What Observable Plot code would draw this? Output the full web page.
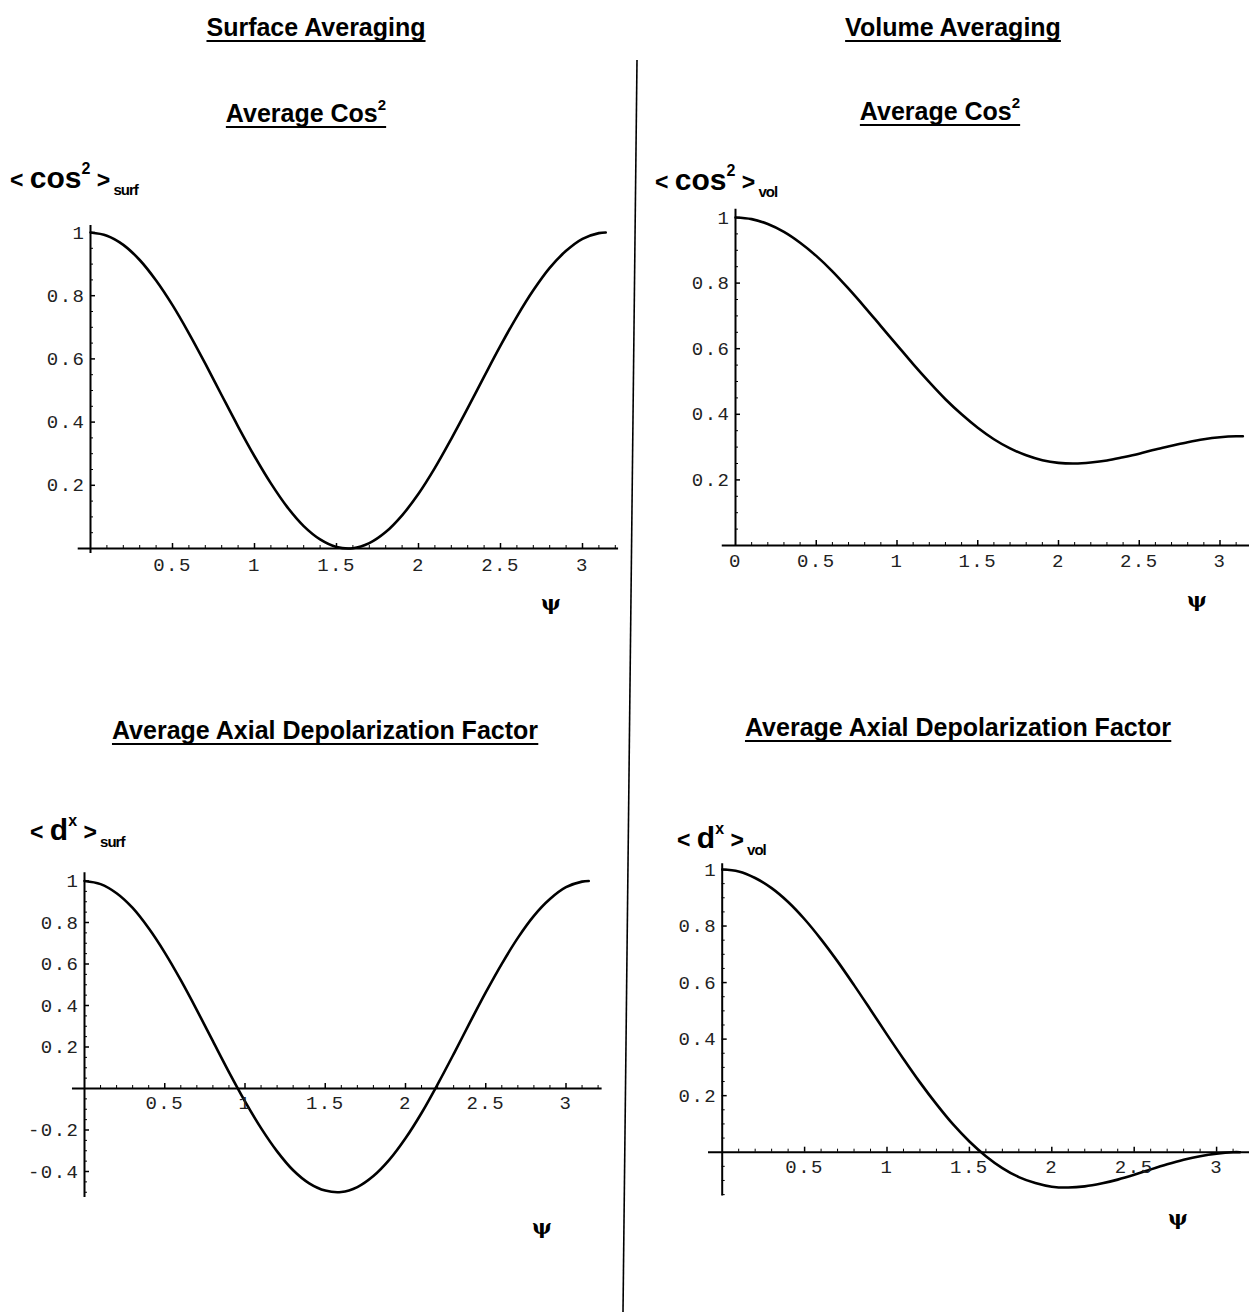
<!DOCTYPE html>
<html><head><meta charset="utf-8">
<script src="https://cdn.jsdelivr.net/npm/d3@7"></script>
<script src="https://cdn.jsdelivr.net/npm/@observablehq/plot@0.6"></script>
<style>
body{margin:0;background:#fff;}
#root{position:relative;width:1249px;height:1312px;overflow:hidden;background:#fff;}
.panel{position:absolute;}
#overlay{position:absolute;left:0;top:0;}
</style></head><body><div id="root"></div>
<script>
// ψ sample positions (radians)
const psi = [0,0.1,0.2,0.3,0.4,0.5,0.6,0.7,0.8,0.9,1.0,1.1,1.2,1.3,1.4,1.5,1.6,1.7,1.8,1.9,2.0,2.1,2.2,2.3,2.4,2.5,2.6,2.7,2.8,2.9,3.0,3.1,3.1416];
// <cos^2>_surf
const cosSurf = [1.000,0.990,0.961,0.913,0.848,0.770,0.681,0.585,0.485,0.386,0.292,0.206,0.131,0.071,0.029,0.005,0.001,0.017,0.052,0.105,0.173,0.255,0.347,0.444,0.544,0.642,0.734,0.817,0.888,0.942,0.980,0.998,1.000];
// <cos^2>_vol
const cosVol = [1.000,0.995,0.980,0.956,0.923,0.883,0.836,0.783,0.727,0.669,0.611,0.553,0.498,0.446,0.400,0.359,0.324,0.296,0.275,0.260,0.252,0.250,0.253,0.259,0.269,0.280,0.293,0.304,0.315,0.324,0.330,0.333,0.333];
// <d^x>_surf
const dSurf = [1.000,0.985,0.941,0.870,0.772,0.655,0.522,0.378,0.228,0.079,-0.062,-0.191,-0.303,-0.394,-0.457,-0.492,-0.499,-0.475,-0.422,-0.343,-0.240,-0.118,0.020,0.166,0.316,0.463,0.601,0.726,0.832,0.913,0.970,0.997,1.000];
// <d^x>_vol
const dVol = [1.000,0.993,0.970,0.934,0.885,0.824,0.753,0.675,0.591,0.504,0.416,0.330,0.247,0.170,0.099,0.038,-0.014,-0.056,-0.088,-0.109,-0.122,-0.125,-0.121,-0.111,-0.097,-0.080,-0.061,-0.043,-0.027,-0.014,-0.005,0.000,0.000];

// tick labels
const xTicksA = [0.5,1,1.5,2,2.5,3];
const xTicksB = [0,0.5,1,1.5,2,2.5,3];
const yTicksPos = [0.2,0.4,0.6,0.8,1];
const yTicksSigned = [-0.4,-0.2,0.2,0.4,0.6,0.8,1];

const fmt = d => String(d);

function panel(o) {
  const data = psi.map((p, i) => ({psi: p, v: o.values[i]}));
  const xMinor = d3.range(1, 33).map(i => i / 10).filter(v => v <= o.xExt[1] && Math.abs(v * 2 - Math.round(v * 2)) > 1e-6);
  const yMinor = d3.range(-20, 21).map(i => i / 20).filter(v => v >= o.yExt[0] && v <= o.yExt[1] && v !== 0 && Math.abs(v * 5 - Math.round(v * 5)) > 1e-6);
  const yMajor = o.yLabels;
  const xMajor = o.xLabels.filter(v => v !== 0);
  const mono = "Liberation Mono, Courier New, monospace";
  const chart = Plot.plot({
    width: o.w, height: o.h, margin: 0,
    style: "overflow:visible;background:transparent;letter-spacing:1.5px;",
    x: {domain: [0, 1], range: [o.x0, o.x0 + o.kx], axis: null},
    y: {domain: [0, 1], range: [o.y0, o.y0 - o.ky], axis: null},
    marks: [
      Plot.ruleY([0], {x1: o.xExt[0], x2: o.xExt[1], stroke: "#000", strokeWidth: 2}),
      Plot.ruleX([0], {y1: o.yExt[0], y2: o.yExt[1], stroke: "#000", strokeWidth: 2}),
      Plot.ruleX(xMajor, {x: d => d, y1: 0, y2: 5 / o.ky, stroke: "#000", strokeWidth: 1.5}),
      Plot.ruleX(xMinor, {x: d => d, y1: 0, y2: 3 / o.ky, stroke: "#000", strokeWidth: 1}),
      Plot.ruleY(yMajor, {y: d => d, x1: 0, x2: 5 / o.kx, stroke: "#000", strokeWidth: 1.5}),
      Plot.ruleY(yMinor, {y: d => d, x1: 0, x2: 3 / o.kx, stroke: "#000", strokeWidth: 1}),
      Plot.line(data, {x: "psi", y: "v", curve: "catmull-rom", stroke: "#000", strokeWidth: 2.6}),
      Plot.text(o.xLabels, {x: d => d, y: 0, text: fmt, dy: o.dy, lineAnchor: "top", textAnchor: "middle", fontFamily: mono, fontSize: 19, fill: "#222"}),
      Plot.text(o.yLabels, {x: 0, y: d => d, text: fmt, dx: -5, textAnchor: "end", fontFamily: mono, fontSize: 19, fill: "#222"})
    ]
  });
  chart.classList.add("panel");
  chart.style.left = o.left + "px";
  chart.style.top = o.top + "px";
  chart.style.position = "absolute";
  return chart;
}

const root = document.getElementById("root");
root.append(panel({values: cosSurf, left: 0, top: 160, w: 636, h: 480, x0: 90, kx: 164, y0: 388, ky: 316,
  xExt: [-0.075, 3.22], yExt: [-0.016, 1.022], xLabels: xTicksA, yLabels: yTicksPos, dy: 9}));
root.append(panel({values: cosVol, left: 640, top: 160, w: 609, h: 480, x0: 95, kx: 161.5, y0: 385, ky: 328,
  xExt: [-0.082, 3.25], yExt: [0, 1.025], xLabels: xTicksB, yLabels: yTicksPos, dy: 8}));
root.append(panel({values: dSurf, left: 0, top: 760, w: 636, h: 520, x0: 84, kx: 160.5, y0: 328, ky: 207.5,
  xExt: [-0.075, 3.225], yExt: [-0.525, 1.04], xLabels: xTicksA, yLabels: yTicksSigned, dy: 7}));
root.append(panel({values: dVol, left: 640, top: 760, w: 609, h: 520, x0: 81.7, kx: 164.8, y0: 391.7, ky: 282.7,
  xExt: [-0.083, 3.25], yExt: [-0.155, 1.02], xLabels: xTicksA, yLabels: yTicksPos, dy: 7}));

// Overlay with titles, axis labels and divider
const ov = d3.select(root).append("svg").attr("id", "overlay").attr("width", 1249).attr("height", 1312);
ov.append("line").attr("x1", 637).attr("y1", 60).attr("x2", 623).attr("y2", 1312).attr("stroke", "#000").attr("stroke-width", 1.6);

const sans = "Liberation Sans, Arial, Helvetica, sans-serif";
const titles = [
  {t: "Surface Averaging", x: 316, y: 36, sup: null},
  {t: "Volume Averaging", x: 953, y: 36, sup: null},
  {t: "Average Cos", x: 306, y: 122, sup: "2"},
  {t: "Average Cos", x: 940, y: 120, sup: "2"},
  {t: "Average Axial Depolarization Factor", x: 325, y: 739, sup: null},
  {t: "Average Axial Depolarization Factor", x: 958, y: 736, sup: null}
];
for (const d of titles) {
  const txt = ov.append("text").attr("x", d.x).attr("y", d.y).attr("text-anchor", "middle")
    .attr("font-family", sans).attr("font-weight", "bold").attr("font-size", 25).attr("fill", "#000");
  txt.append("tspan").text(d.t);
  if (d.sup) txt.append("tspan").attr("dy", -12).attr("font-size", 15).text(d.sup);
  const bb = txt.node().getBBox();
  ov.append("line").attr("x1", bb.x).attr("x2", bb.x + bb.width).attr("y1", d.y + 5).attr("y2", d.y + 5)
    .attr("stroke", "#000").attr("stroke-width", 2);
}

const ylabels = [
  {x: 10, y: 188, main: "cos", sup: "2", sub: "surf"},
  {x: 655, y: 190, main: "cos", sup: "2", sub: "vol"},
  {x: 30, y: 840, main: "d", sup: "x", sub: "surf"},
  {x: 677, y: 848, main: "d", sup: "x", sub: "vol"}
];
for (const d of ylabels) {
  const txt = ov.append("text").attr("x", d.x).attr("y", d.y).attr("font-family", sans).attr("font-weight", "bold").attr("fill", "#000");
  txt.append("tspan").attr("font-size", 23).text("< ");
  txt.append("tspan").attr("font-size", 30).text(d.main);
  txt.append("tspan").attr("font-size", 16).attr("dy", -14).text(d.sup);
  txt.append("tspan").attr("font-size", 23).attr("dy", 14).text(" >");
  txt.append("tspan").attr("font-size", 15).attr("dy", 7).attr("letter-spacing", -1).text(" " + d.sub);
}

const psiLabels = [{x: 551, y: 610}, {x: 1197, y: 607}, {x: 542, y: 1234}, {x: 1178, y: 1225}];
for (const d of psiLabels) {
  ov.append("text").attr("x", d.x).attr("y", d.y).attr("text-anchor", "middle")
    .attr("font-family", "DejaVu Serif, Liberation Serif, serif").attr("font-weight", "bold").attr("font-size", 21).text("ψ");
}
</script></body></html>
